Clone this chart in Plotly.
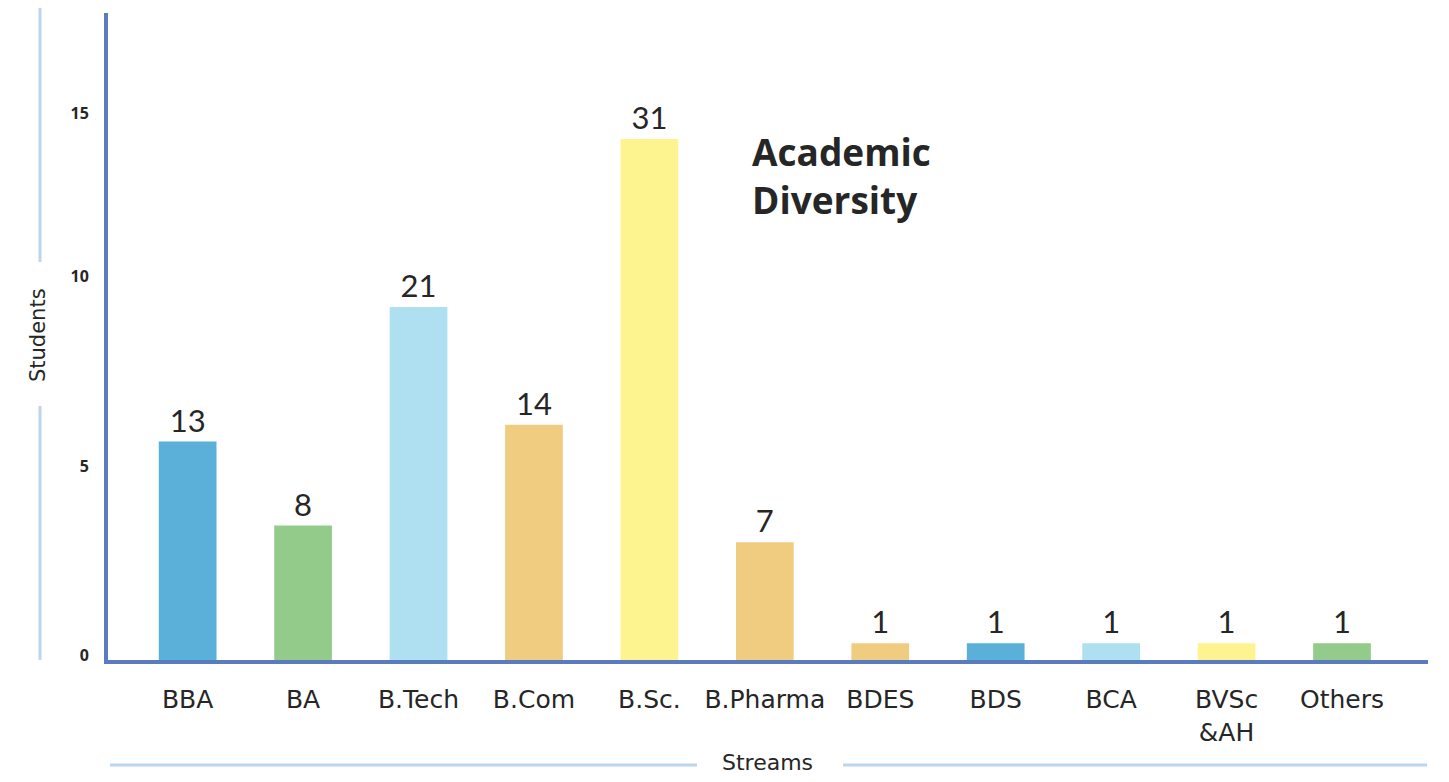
import plotly.graph_objects as go

streams = ["BBA", "BA", "B.Tech", "B.Com", "B.Sc.", "B.Pharma", "BDES", "BDS", "BCA", "BVSc<br>&AH", "Others"]
students = [13, 8, 21, 14, 31, 7, 1, 1, 1, 1, 1]
bar_colors = ["#5ab0d8", "#93cc8a", "#aee0f2", "#f0cc80", "#fef48f", "#f0cc80",
              "#f0cc80", "#5ab0d8", "#aee0f2", "#fef48f", "#93cc8a"]
y_tick_labels = ["0", "5", "10", "15"]
y_tick_values = [0.3, 11.5, 22.8, 32.5]

AXIS = "#5b7bbf"
LIGHT = "#bcd6ee"
TXT = "#262626"

# page offset of the figure (body margin)
OFF = 8
L, T, PW, PH = 108 - OFF, 13 - OFF, 1320, 647

fig = go.Figure(go.Bar(
    x=list(range(len(streams))),
    y=students,
    width=0.5,
    marker=dict(color=bar_colors, line=dict(width=0)),
    text=[str(v) for v in students],
    textposition="outside",
    textfont=dict(family="Lato", size=31, color=TXT),
    cliponaxis=False,
))

fig.update_layout(
    width=1433, height=766,
    margin=dict(l=L, r=1433 - L - PW, t=T, b=766 - T - PH),
    paper_bgcolor="white", plot_bgcolor="white",
    showlegend=False,
    xaxis=dict(
        range=[-0.69, 10.745],
        tickvals=list(range(len(streams))),
        ticktext=streams,
        tickfont=dict(family="DejaVu Sans", size=25, color=TXT),
        ticks="", ticklabelstandoff=14,
        showgrid=False, zeroline=False,
        showline=True, linecolor=AXIS, linewidth=4,
    ),
    yaxis=dict(
        range=[0, 38.5],
        tickvals=y_tick_values,
        ticktext=["<b>%s</b>" % t for t in y_tick_labels],
        tickfont=dict(family="Open Sans", size=16, color=TXT),
        ticks="", ticklabelstandoff=12,
        showgrid=False, zeroline=False,
        showline=True, linecolor=AXIS, linewidth=4,
    ),
)

def px(x):
    return (x - 108) / PW

def py(y):
    return (660 - y) / PH

# Title
fig.add_annotation(
    x=px(750), y=py(124), xref="paper", yref="paper",
    xanchor="left", yanchor="top", align="left", showarrow=False,
    text="<b>Academic<br>Diversity</b>",
    font=dict(family="Open Sans", size=37, color=TXT),
)

# Axis titles with decorative lines
fig.add_annotation(
    x=px(767), y=py(762), xref="paper", yref="paper",
    xanchor="center", yanchor="middle", showarrow=False,
    text="Streams", font=dict(family="DejaVu Sans", size=22, color=TXT),
)
fig.add_annotation(
    x=px(38), y=py(335), xref="paper", yref="paper",
    xanchor="center", yanchor="middle", showarrow=False, textangle=-90,
    text="Students", font=dict(family="DejaVu Sans", size=21, color=TXT),
)

def pline(x0, y0, x1, y1):
    fig.add_shape(type="line", xref="paper", yref="paper",
                  x0=px(x0), x1=px(x1), y0=py(y0), y1=py(y1),
                  line=dict(color=LIGHT, width=3))

pline(110, 765, 697, 765)
pline(843, 765, 1427, 765)
pline(40, 7, 40, 262)
pline(40, 406, 40, 660)

fig.write_html("out.html")
